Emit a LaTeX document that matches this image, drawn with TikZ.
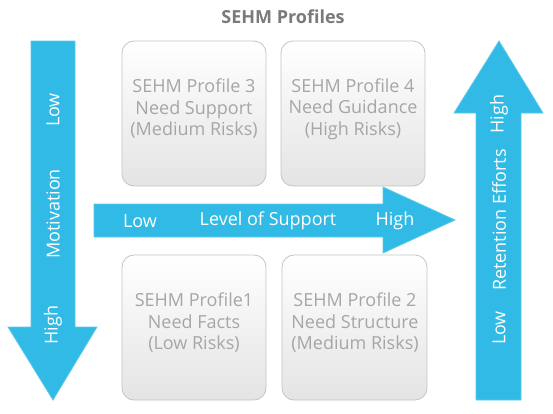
\documentclass[tikz,border=0pt]{standalone}
\usepackage{fontspec}
\setmainfont{Open Sans}
\definecolor{arrowblue}{HTML}{30BAE5}
\definecolor{arrowedge}{HTML}{5EC9EB}
\definecolor{boxedge}{HTML}{C4C4C4}
\definecolor{boxtext}{HTML}{A6A6A6}
\definecolor{boxbot}{HTML}{E4E4E5}
\definecolor{titlegray}{HTML}{7A7A7A}
\begin{document}
\begin{tikzpicture}[x=1pt,y=-1pt,
  bigarrow/.style={fill=arrowblue,draw=arrowedge,line width=0.8pt},
  profilebox/.style={draw=boxedge,line width=0.8pt,rounded corners=12pt,top color=white,bottom color=boxbot},
  boxlabel/.style={text=boxtext,font=\fontsize{18}{21.5}\selectfont,align=center},
  arrowlabel/.style={text=white,font=\fontsize{18}{21}\selectfont},
]
\useasboundingbox (0,0) rectangle (553,413);
\node[text=titlegray,font=\bfseries\fontsize{18}{21}\selectfont] (title) at (283,17) {SEHM Profiles};
% boxes
\draw[profilebox] (122,41) rectangle (266,186);
\draw[profilebox] (281,41) rectangle (425,186);
\draw[profilebox] (122,255) rectangle (266,400);
\draw[profilebox] (282,255) rectangle (427,400);
\node[boxlabel] (p3) at (194,109) {SEHM Profile 3\\Need Support\\(Medium Risks)};
\node[boxlabel] (p4) at (353,109) {SEHM Profile 4\\Need Guidance\\(High Risks)};
\node[boxlabel] (p1) at (194,323) {SEHM Profile1\\Need Facts\\(Low Risks)};
\node[boxlabel] (p2) at (355,323) {SEHM Profile 2\\Need Structure\\(Medium Risks)};
% left arrow (down)
\draw[bigarrow] (31,41) -- (75,41) -- (75,327) -- (97,327) -- (53,400) -- (8,327) -- (31,327) -- cycle;
\node[arrowlabel,rotate=90] (mlow) at (53,110) {Low};
\node[arrowlabel,rotate=90] (mot) at (53,214) {Motivation};
\node[arrowlabel,rotate=90] (mhigh) at (53,325) {High};
% right arrow (up)
\draw[bigarrow] (476,400) -- (521,400) -- (521,113) -- (543,113) -- (499,41) -- (454,113) -- (476,113) -- cycle;
\node[arrowlabel,rotate=90] (rhigh) at (499,114) {High};
\node[arrowlabel,rotate=90] (ret) at (499,220) {Retention Efforts};
\node[arrowlabel,rotate=90] (rlow) at (499,328) {Low};
% horizontal arrow
\draw[bigarrow] (94,204) -- (383,204) -- (383,187) -- (455,220) -- (383,253) -- (383,237) -- (94,237) -- cycle;
\node[arrowlabel] (slow) at (140,221) {Low};
\node[arrowlabel] (sup) at (268,221) {Level of Support};
\node[arrowlabel] (shigh) at (395,221) {High};
\end{tikzpicture}
\end{document}
